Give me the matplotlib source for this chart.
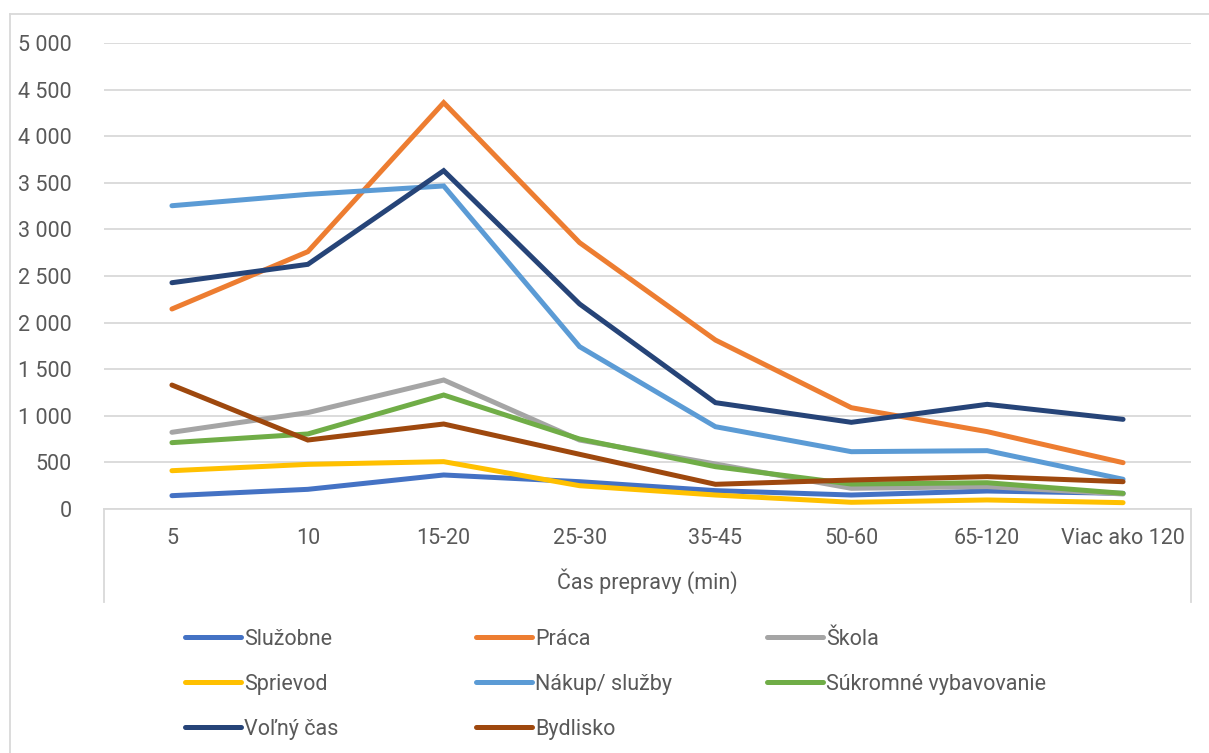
import matplotlib
matplotlib.use("Agg")
import matplotlib.pyplot as plt
from matplotlib.lines import Line2D
from matplotlib.ticker import FuncFormatter, MultipleLocator

plt.rcParams['font.family'] = ['Roboto', 'DejaVu Sans']

categories = ['5', '10', '15-20', '25-30', '35-45', '50-60', '65-120', 'Viac ako 120']

sluzobne = [143, 211, 365, 293, 197, 150, 193, 168]
praca = [2146, 2761, 4360, 2858, 1813, 1087, 830, 497]
skola = [823, 1034, 1384, 740, 483, 222, 240, 161]
sprievod = [411, 479, 508, 250, 150, 72, 97, 68]
nakup = [3254, 3376, 3466, 1742, 883, 615, 626, 319]
sukromne = [712, 805, 1223, 751, 454, 268, 282, 168]
volny_cas = [2428, 2625, 3630, 2200, 1141, 930, 1123, 962]
bydlisko = [1330, 740, 912, 587, 265, 311, 347, 293]

series_names = ['Služobne', 'Práca', 'Škola', 'Sprievod', 'Nákup/ služby',
                'Súkromné vybavovanie', 'Voľný čas', 'Bydlisko']
series_values = [sluzobne, praca, skola, sprievod, nakup, sukromne, volny_cas, bydlisko]
series_colors = ['#4472C4', '#ED7D31', '#A5A5A5', '#FFC000', '#5B9BD5',
                 '#70AD47', '#264478', '#9E480E']

x_title = 'Čas prepravy (min)'

W, H = 1209, 753
fig = plt.figure(figsize=(W / 100, H / 100), dpi=100)
txt = '#595959'
grid = '#D9D9D9'
fs = 15.5

# plot area in pixels
L, R, T, B = 104, 1191, 43, 509
ax = fig.add_axes([L / W, 1 - B / H, (R - L) / W, (B - T) / H])

xs = list(range(len(categories)))
for name, vals, col in zip(series_names, series_values, series_colors):
    ax.plot(xs, vals, color=col, lw=3.6, solid_capstyle='round',
            solid_joinstyle='miter', label=name, zorder=3)

ax.set_xlim(-0.5, len(categories) - 0.5)
ax.set_ylim(0, 5000)
ax.yaxis.set_major_locator(MultipleLocator(500))
ax.yaxis.set_major_formatter(FuncFormatter(lambda v, p: f"{int(v):,}".replace(',', ' ')))
ax.set_xticks(xs)
ax.set_xticklabels(categories)
ax.tick_params(axis='both', length=0, labelsize=fs, labelcolor=txt)
ax.tick_params(axis='y', pad=23)
ax.tick_params(axis='x', pad=14)
ax.grid(axis='y', color=grid, lw=1.3, zorder=0)
for s in ['top', 'right', 'left']:
    ax.spines[s].set_visible(False)
ax.spines['bottom'].set_color(grid)
ax.spines['bottom'].set_linewidth(1.3)
ax.spines['bottom'].set_zorder(2)

ax.set_xlabel(x_title, fontsize=fs, color=txt, labelpad=14)

# category axis box side lines
for xp in (L, R):
    fig.add_artist(Line2D([xp / W, xp / W], [1 - B / H, 1 - 602 / H],
                          color=grid, lw=1.3))

# outer chart border (left and top visible)
fig.add_artist(Line2D([10 / W, 10 / W], [1 - 14 / H, 0], color=grid, lw=1.3))
fig.add_artist(Line2D([10 / W, 1], [1 - 14 / H, 1 - 14 / H], color=grid, lw=1.3))

# legend: 3 columns, row-major order
col_x = [185, 476, 767]
row_y = [637, 682, 727]
hlen = 56
for i, (name, col) in enumerate(zip(series_names, series_colors)):
    r, c = divmod(i, 3)
    x0 = col_x[c]
    y0 = row_y[r]
    fig.add_artist(Line2D([x0 / W, (x0 + hlen) / W], [1 - y0 / H, 1 - y0 / H],
                          color=col, lw=3.6, solid_capstyle='round'))
    fig.text((x0 + hlen + 3) / W, 1 - y0 / H, name, fontsize=fs, color=txt,
             ha='left', va='center_baseline')

fig.savefig('out.png', dpi=100)
